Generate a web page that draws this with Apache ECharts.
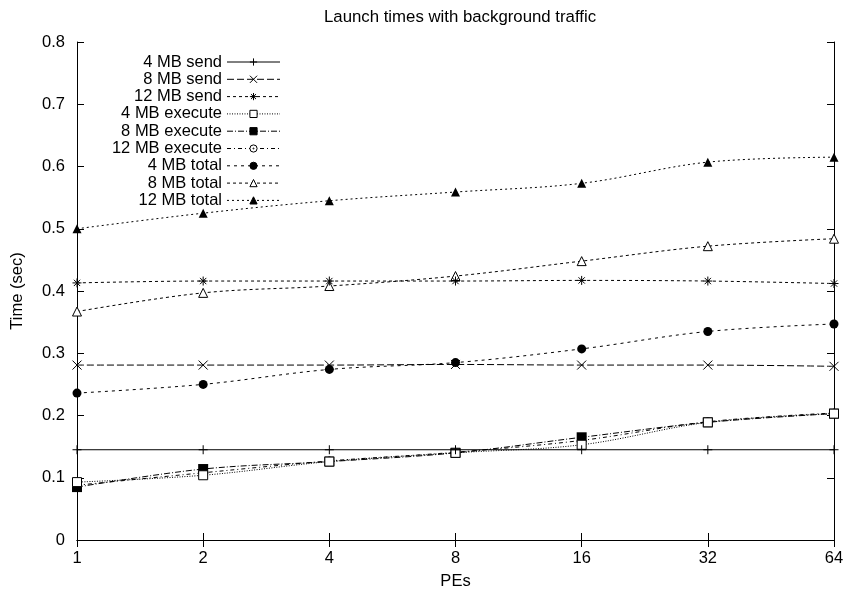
<!DOCTYPE html>
<html>
<head>
<meta charset="utf-8">
<script src="https://cdn.jsdelivr.net/npm/echarts@6/dist/echarts.min.js"></script>
<style>
html,body{margin:0;padding:0;background:#fff;}
#c{width:847px;height:595px;}
</style>
</head>
<body>
<div id="c"></div>
<script>
const titleText = 'Launch times with background traffic';
const xName = 'PEs';
const yName = 'Time (sec)';
const pes = [1, 2, 4, 8, 16, 32, 64];
const xTickLabels = ['1', '2', '4', '8', '16', '32', '64'];
const seriesNames = ['4 MB send', '8 MB send', '12 MB send', '4 MB execute', '8 MB execute', '12 MB execute', '4 MB total', '8 MB total', '12 MB total'];
const send4 = [0.145, 0.145, 0.145, 0.145, 0.145, 0.145, 0.145];
const send8 = [0.281, 0.281, 0.281, 0.282, 0.281, 0.281, 0.279];
const send12 = [0.413, 0.416, 0.416, 0.416, 0.417, 0.416, 0.412];
const exec4 = [0.093, 0.104, 0.126, 0.140, 0.153, 0.189, 0.203];
const exec8 = [0.085, 0.114, 0.126, 0.140, 0.165, 0.189, 0.203];
const exec12 = [0.088, 0.108, 0.127, 0.141, 0.160, 0.190, 0.204];
const total4 = [0.236, 0.250, 0.274, 0.285, 0.307, 0.335, 0.347];
const total8 = [0.367, 0.397, 0.408, 0.424, 0.448, 0.472, 0.484];
const total12 = [0.500, 0.525, 0.545, 0.559, 0.573, 0.607, 0.615];

const allValues = [send4, send8, send12, exec4, exec8, exec12, total4, total8, total12];

const PLUS = 'path://M0,5L10,5M5,0L5,10';
const CROSS = 'path://M1,1L9,9M9,1L1,9';
const STAR = 'path://M0,5L10,5M5,0L5,10M1.5,1.5L8.5,8.5M8.5,1.5L1.5,8.5';
const DOTCIRCLE = 'path://M5,0A5,5 0 1,1 5,10A5,5 0 1,1 5,0ZM5,4.3A0.7,0.7 0 1,1 5,5.7A0.7,0.7 0 1,1 5,4.3Z';

const styles = [
  {symbol: PLUS, size: 9, dash: 'solid', fill: '#000', stroke: true},
  {symbol: CROSS, size: 9, dash: [7, 3], fill: '#000', stroke: true},
  {symbol: STAR, size: 9, dash: [3, 3], fill: '#000', stroke: true},
  {symbol: 'rect', size: 9, dash: [1, 1.5], fill: '#fff', stroke: true},
  {symbol: 'rect', size: 10, dash: [6, 2, 1, 2], fill: '#000', stroke: false},
  {symbol: DOTCIRCLE, size: 8, dash: [4, 3, 1, 3], fill: '#fff', stroke: true},
  {symbol: 'circle', size: 9, dash: [3, 4], fill: '#000', stroke: false},
  {symbol: 'triangle', size: 9, dash: [3, 3], fill: '#fff', stroke: true},
  {symbol: 'triangle', size: 9, dash: [2, 3], fill: '#000', stroke: false}
];

const FONT = 'Liberation Sans, Arial, sans-serif';
const FS = 16.5;

const series = seriesNames.map((name, i) => ({
  name: name,
  type: 'line',
  xAxisIndex: 0,
  yAxisIndex: 0,
  data: pes.map((p, j) => [p, allValues[i][j]]),
  smooth: i === 0 ? false : 0.35,
  symbol: styles[i].symbol,
  symbolSize: styles[i].size,
  showAllSymbol: true,
  lineStyle: {color: '#000', width: 1, type: styles[i].dash},
  itemStyle: {color: styles[i].fill, borderColor: '#000', borderWidth: styles[i].stroke ? 1 : 0},
  emphasis: {disabled: true},
  z: 10 - i
}));

const chart = echarts.init(document.getElementById('c'), null, {renderer: 'canvas'});
chart.setOption({
  animation: false,
  backgroundColor: '#fff',
  title: {
    text: titleText,
    left: 455,
    textAlign: 'center',
    top: 4,
    textStyle: {fontFamily: FONT, fontSize: 16.8, fontWeight: 'normal', color: '#000'}
  },
  legend: {
    orient: 'vertical',
    left: 97,
    top: 48.5,
    align: 'right',
    itemWidth: 53,
    itemHeight: 9,
    itemGap: 0.3,
    selectedMode: false,
    data: seriesNames,
    lineStyle: {width: 1},
    itemStyle: {borderWidth: 1, borderColor: '#000'},
    textStyle: {fontFamily: FONT, fontSize: FS, color: '#000', width: 120, align: 'right', lineHeight: 16.5}
  },
  grid: {left: 77, right: 13, top: 42, bottom: 52, containLabel: false},
  xAxis: [
    {
      type: 'log', logBase: 2, min: 1, max: 64, interval: 1,
      name: xName, nameLocation: 'middle', nameGap: 33,
      nameTextStyle: {fontFamily: FONT, fontSize: FS, color: '#000'},
      axisLine: {show: true, lineStyle: {color: '#000', width: 1}},
      axisTick: {show: true, inside: true, length: 7, lineStyle: {color: '#000'}},
      axisLabel: {fontFamily: FONT, fontSize: FS, color: '#000', margin: 10,
        formatter: v => { const k = pes.indexOf(Math.round(v)); return k >= 0 ? xTickLabels[k] : ''; }},
      splitLine: {show: false}, minorTick: {show: false}
    },
    {
      type: 'log', logBase: 2, min: 1, max: 64, interval: 1, position: 'top',
      axisLine: {show: true, lineStyle: {color: '#000', width: 1}},
      axisTick: {show: true, inside: true, length: 7, lineStyle: {color: '#000'}},
      axisLabel: {show: false}, splitLine: {show: false}
    }
  ],
  yAxis: [
    {
      type: 'value', min: 0, max: 0.8, interval: 0.1,
      name: yName, nameLocation: 'middle', nameGap: 51, nameRotate: 90,
      nameTextStyle: {fontFamily: FONT, fontSize: FS, color: '#000'},
      axisLine: {show: true, lineStyle: {color: '#000', width: 1}},
      axisTick: {show: true, inside: true, length: 7, lineStyle: {color: '#000'}},
      axisLabel: {fontFamily: FONT, fontSize: FS, color: '#000', margin: 12,
        formatter: v => v === 0 ? '0' : v.toFixed(1)},
      splitLine: {show: false}
    },
    {
      type: 'value', min: 0, max: 0.8, interval: 0.1, position: 'right',
      axisLine: {show: true, lineStyle: {color: '#000', width: 1}},
      axisTick: {show: true, inside: true, length: 7, lineStyle: {color: '#000'}},
      axisLabel: {show: false}, splitLine: {show: false}
    }
  ],
  series: series
});
</script>
</body>
</html>
